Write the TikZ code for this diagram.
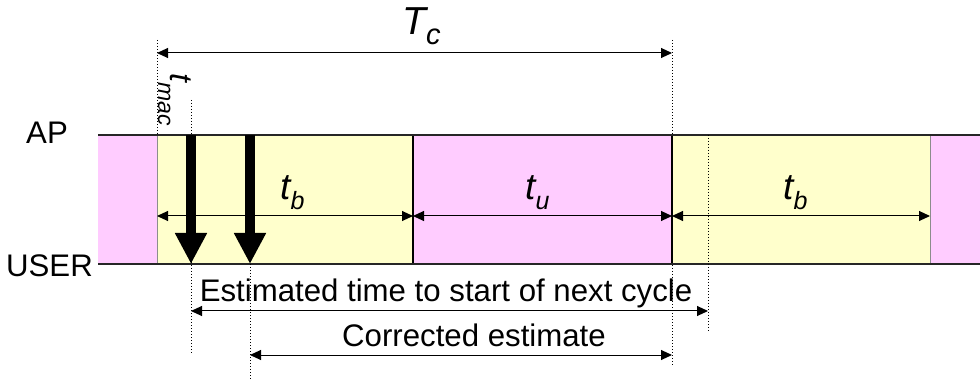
\documentclass[tikz,border=0pt]{standalone}
\usepackage{fontspec}
\setmainfont{Liberation Sans}
\usetikzlibrary{arrows.meta}
\definecolor{pinkc}{HTML}{FFCCFF}
\definecolor{yellowc}{HTML}{FFFFCC}
\newcommand{\symsub}[5]{{\fontsize{#1}{#1}\selectfont\itshape #2\raisebox{-#5}{\fontsize{#3}{#3}\selectfont #4}}}
\begin{document}
\begin{tikzpicture}[x=0.5pt,y=-0.5pt,
  lbl/.style={inner sep=0pt, font=\fontsize{15.6}{18}\selectfont},
  sym/.style={inner sep=0pt},
  dimarrow/.style={line width=0.5pt, {Triangle[length=5.5pt,width=5pt]}-{Triangle[length=5.5pt,width=5pt]}},
  guide/.style={line width=0.5pt, dash pattern=on 0.5pt off 1pt},
  bigarrow/.style={line width=5pt, -{Triangle[length=15.5pt,width=15pt]}},
  bandline/.style={line width=0.75pt, black!85},
  slotline/.style={line width=0.6pt, black},
  thinslot/.style={line width=0.35pt, black!45}]
\useasboundingbox (0,0) rectangle (980,379);
% slots
\fill[pinkc]   (98,135) rectangle (157,264);
\fill[yellowc] (157,135) rectangle (413,264);
\fill[pinkc]   (413,135) rectangle (672,264);
\fill[yellowc] (672,135) rectangle (930,264);
\fill[pinkc]   (930,135) rectangle (980,264);
\draw[thinslot] (157,135) -- (157,264);
\draw[thinslot] (930,135) -- (930,264);
\draw[slotline] (413,135) -- (413,264);
\draw[slotline] (672,135) -- (672,264);
\draw[bandline] (98,135) -- (980,135);
\draw[bandline] (98,264) -- (980,264);
% named coordinates
\coordinate (g0t) at (157,40);  \coordinate (g0b) at (157,135);
\coordinate (g1t) at (672,40);  \coordinate (g1b) at (672,367);
\coordinate (g2t) at (708,135); \coordinate (g2b) at (708,332);
\coordinate (g3t) at (191,100); \coordinate (g3b) at (191,355);
\coordinate (g4t) at (250,135); \coordinate (g4b) at (250,379);
\coordinate (tcL) at (157,53);  \coordinate (tcR) at (672,53);
\coordinate (b1L) at (157,216); \coordinate (b1R) at (413,216);
\coordinate (uL) at (413,216);  \coordinate (uR) at (672,216);
\coordinate (b2L) at (672,216); \coordinate (b2R) at (930,216);
\coordinate (eL) at (191,311);  \coordinate (eR) at (708,311);
\coordinate (cL) at (250,355);  \coordinate (cR) at (672,355);
\coordinate (a1t) at (191,135); \coordinate (a1b) at (191,264);
\coordinate (a2t) at (250,135); \coordinate (a2b) at (250,264);
% guides
\draw[guide] (g0t) -- (g0b);
\draw[guide] (g1t) -- (g1b);
\draw[guide] (g2t) -- (g2b);
\draw[guide] (g3t) -- (g3b);
\draw[guide] (g4t) -- (g4b);
% dimension arrows
\draw[dimarrow] (tcL) -- (tcR);
\draw[dimarrow] (b1L) -- (b1R);
\draw[dimarrow] (uL) -- (uR);
\draw[dimarrow] (b2L) -- (b2R);
\draw[dimarrow] (eL) -- (eR);
\draw[dimarrow] (cL) -- (cR);
% big arrows
\draw[bigarrow] (a1t) -- (a1b);
\draw[bigarrow] (a2t) -- (a2b);
% labels
\node[lbl, anchor=base] (ap) at (47,144) {AP};
\node[lbl, anchor=base] (user) at (49.5,277) {USER};
\node[lbl, anchor=base] (est) at (446,301) {Estimated time to start of next cycle};
\node[lbl, anchor=base] (cor) at (474,346.5) {Corrected estimate};
\node[sym, anchor=base west] (tc) at (402,35) {\symsub{19.5}{T}{14.5}{c}{5pt}};
\node[sym, anchor=base west] (tb1) at (280,200) {\symsub{18.5}{t}{12.5}{b}{5pt}};
\node[sym, anchor=base west] (tu) at (525,200) {\symsub{18.5}{t}{12.5}{u}{5pt}};
\node[sym, anchor=base west] (tb2) at (783,200) {\symsub{18.5}{t}{12.5}{b}{5pt}};
\node[sym, anchor=base west, rotate=-90] (tmac) at (170,73) {\symsub{16}{t}{11.5}{mac}{6pt}};
\end{tikzpicture}
\end{document}
